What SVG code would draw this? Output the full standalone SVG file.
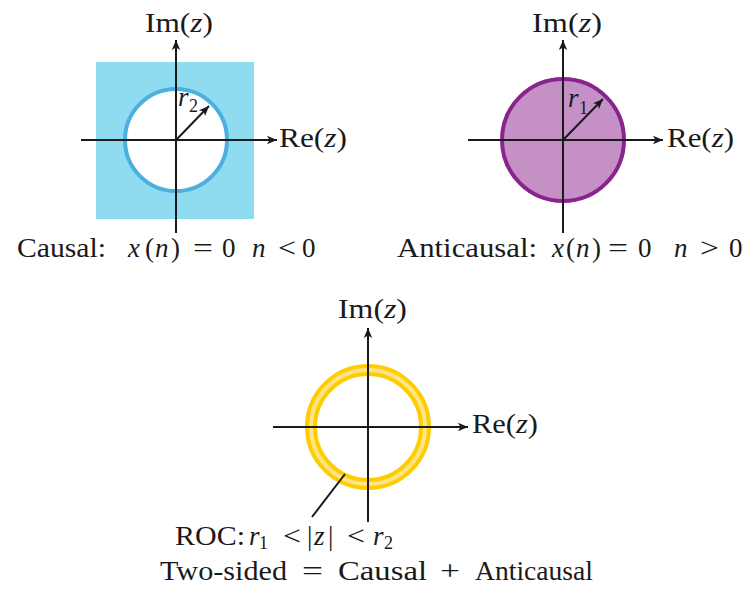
<svg xmlns="http://www.w3.org/2000/svg" width="747" height="589" viewBox="0 0 747 589">
<style>
text{font-family:"Liberation Serif","DejaVu Serif",serif;font-size:27px;fill:#1a1a1a}
.i{font-style:italic}
.sub{font-size:18px}
.ax{stroke:#1a1a1a;stroke-width:2;fill:none}
.ar{stroke:#1a1a1a;stroke-width:2;fill:none;marker-end:url(#ah)}
</style>
<defs>
<marker id="ah" markerUnits="userSpaceOnUse" markerWidth="12" markerHeight="10" refX="10" refY="5" orient="auto">
<path d="M0,0.8 L10,5 L0,9.2 L2.5,5 Z" fill="#1a1a1a"/>
</marker>
</defs>

<g id="causal">
<rect x="96" y="62" width="158" height="157" fill="#8fdcf0"/>
<circle cx="176" cy="140" r="51" fill="#ffffff" stroke="#4bb0de" stroke-width="4"/>
</g>
<g id="anticausal">
<circle cx="563" cy="140" r="61" fill="#c590c6" stroke="#8a2290" stroke-width="4"/>
</g>
<g id="twosided">
<circle cx="368" cy="427" r="57" fill="none" stroke="#ffcc00" stroke-width="12"/>
<circle cx="368" cy="427" r="57" fill="none" stroke="#ffe48a" stroke-width="4"/>
</g>

<g id="connectors">
<line class="ax" x1="176" y1="233" x2="176" y2="40" marker-end="url(#ah)"/>
<line class="ax" x1="81" y1="140" x2="277" y2="140" marker-end="url(#ah)"/>
<line class="ar" x1="176" y1="140" x2="209" y2="106"/>
<line class="ax" x1="563" y1="233" x2="563" y2="40" marker-end="url(#ah)"/>
<line class="ax" x1="468" y1="140" x2="663" y2="140" marker-end="url(#ah)"/>
<line class="ar" x1="563" y1="140" x2="603" y2="99"/>
<line class="ax" x1="368" y1="522" x2="368" y2="328" marker-end="url(#ah)"/>
<line class="ax" x1="273" y1="427" x2="468" y2="427" marker-end="url(#ah)"/>
<line class="ax" x1="312" y1="517" x2="345" y2="474"/>
</g>

<g id="labels1">
<text x="145" y="32" textLength="68" lengthAdjust="spacingAndGlyphs">Im(<tspan class="i">z</tspan>)</text>
<text x="279" y="147" textLength="68" lengthAdjust="spacingAndGlyphs">Re(<tspan class="i">z</tspan>)</text>
<text x="178" y="106" class="i">r</text><text x="189" y="112" class="sub">2</text>
<text y="257"><tspan x="17" textLength="89" lengthAdjust="spacingAndGlyphs">Causal:</tspan><tspan x="128" class="i">x</tspan><tspan x="145">(</tspan><tspan x="155" class="i">n</tspan><tspan x="171">)</tspan><tspan x="193" textLength="20" lengthAdjust="spacingAndGlyphs">=</tspan><tspan x="222">0</tspan><tspan x="252" class="i">n</tspan><tspan x="278" textLength="18" lengthAdjust="spacingAndGlyphs">&lt;</tspan><tspan x="302">0</tspan></text>
</g>
<g id="labels2">
<text x="532" y="32" textLength="70" lengthAdjust="spacingAndGlyphs">Im(<tspan class="i">z</tspan>)</text>
<text x="667" y="147" textLength="67" lengthAdjust="spacingAndGlyphs">Re(<tspan class="i">z</tspan>)</text>
<text x="568" y="107" class="i">r</text><text x="579" y="114" class="sub">1</text>
<text y="257"><tspan x="397" textLength="140" lengthAdjust="spacingAndGlyphs">Anticausal:</tspan><tspan x="552" class="i">x</tspan><tspan x="566">(</tspan><tspan x="576" class="i">n</tspan><tspan x="592">)</tspan><tspan x="608" textLength="20" lengthAdjust="spacingAndGlyphs">=</tspan><tspan x="638">0</tspan><tspan x="674" class="i">n</tspan><tspan x="700" textLength="19" lengthAdjust="spacingAndGlyphs">&gt;</tspan><tspan x="729">0</tspan></text>
</g>
<g id="labels3">
<text x="338" y="318" textLength="69" lengthAdjust="spacingAndGlyphs">Im(<tspan class="i">z</tspan>)</text>
<text x="472" y="433" textLength="66" lengthAdjust="spacingAndGlyphs">Re(<tspan class="i">z</tspan>)</text>
<text y="545"><tspan x="175" textLength="70" lengthAdjust="spacingAndGlyphs">ROC:</tspan><tspan x="249" class="i">r</tspan><tspan x="259" dy="4" class="sub">1</tspan><tspan x="283" dy="-4" textLength="18" lengthAdjust="spacingAndGlyphs">&lt;</tspan><tspan x="307">|</tspan><tspan x="314" class="i">z</tspan><tspan x="328">|</tspan><tspan x="347" textLength="18" lengthAdjust="spacingAndGlyphs">&lt;</tspan><tspan x="373" class="i">r</tspan><tspan x="384" dy="4" class="sub">2</tspan></text>
<text y="580"><tspan x="160" textLength="127" lengthAdjust="spacingAndGlyphs">Two-sided</tspan><tspan x="302" textLength="21" lengthAdjust="spacingAndGlyphs">=</tspan><tspan x="338" textLength="89" lengthAdjust="spacingAndGlyphs">Causal</tspan><tspan x="440" textLength="20" lengthAdjust="spacingAndGlyphs">+</tspan><tspan x="475" textLength="118" lengthAdjust="spacingAndGlyphs">Anticausal</tspan></text>
</g>
</svg>
